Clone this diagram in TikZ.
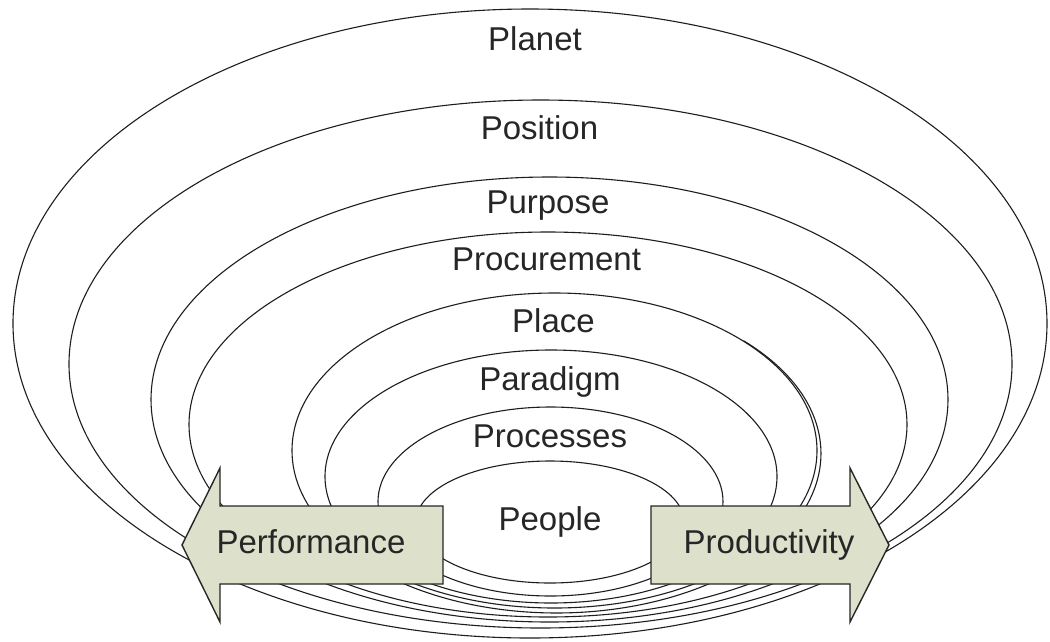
\documentclass[tikz,border=0pt]{standalone}
\usepackage{fontspec}
\setmainfont{Liberation Sans}
\definecolor{arrowfill}{RGB}{221,224,203}
\definecolor{linecol}{RGB}{30,30,30}
\begin{document}
\begin{tikzpicture}[x=1pt,y=-1pt,
  ring/.style={draw=linecol,line width=1.1pt},
  lbl/.style={anchor=base,inner sep=0pt,font=\fontsize{33}{38}\selectfont,text=black!85},
  bigarrow/.style={draw=black!85,line width=1.4pt,fill=arrowfill,line join=miter}]
\useasboundingbox (0,0) rectangle (1050,641);
\fill[white] (0,0) rectangle (1050,641);
% rings (outer to inner)
\draw[ring] (530,323.5) ellipse [x radius=517pt, y radius=314.5pt];
\draw[ring] (540.5,364) ellipse [x radius=471.5pt, y radius=264pt];
\draw[ring] (549.5,399.5) ellipse [x radius=398.5pt, y radius=222.5pt];
\draw[ring] (548,424.5) ellipse [x radius=359pt, y radius=192.5pt];
\draw[ring] (743.5,340.7) arc [start angle=45, end angle=-150, x radius=264.5pt, y radius=159.5pt];
\draw[ring] (554.5,450.5) ellipse [x radius=262.5pt, y radius=157.5pt];
\draw[ring] (551,476.5) ellipse [x radius=226pt, y radius=126.5pt];
\draw[ring] (550.5,501.5) ellipse [x radius=172.5pt, y radius=94.5pt];
\draw[ring] (550,522) ellipse [x radius=134pt, y radius=61pt];
% labels
\node[lbl] (planet) at (535,50) {Planet};
\node[lbl] (position) at (539.5,139) {Position};
\node[lbl] (purpose) at (548,213) {Purpose};
\node[lbl] (procurement) at (546.5,270) {Procurement};
\node[lbl] (place) at (553.5,332) {Place};
\node[lbl] (paradigm) at (550,390) {Paradigm};
\node[lbl] (processes) at (550,447) {Processes};
\node[lbl] (people) at (550,530) {People};
% arrows
\draw[bigarrow] (443,506) -- (220,506) -- (220,468) -- (182,545) -- (220,622) -- (220,584) -- (443,584) -- cycle;
\draw[bigarrow] (651,506) -- (850,506) -- (850,468) -- (889,545) -- (850,622) -- (850,584) -- (651,584) -- cycle;
\node[lbl] (performance) at (311,553) {Performance};
\node[lbl] (productivity) at (769,553) {Productivity};
\end{tikzpicture}
\end{document}
